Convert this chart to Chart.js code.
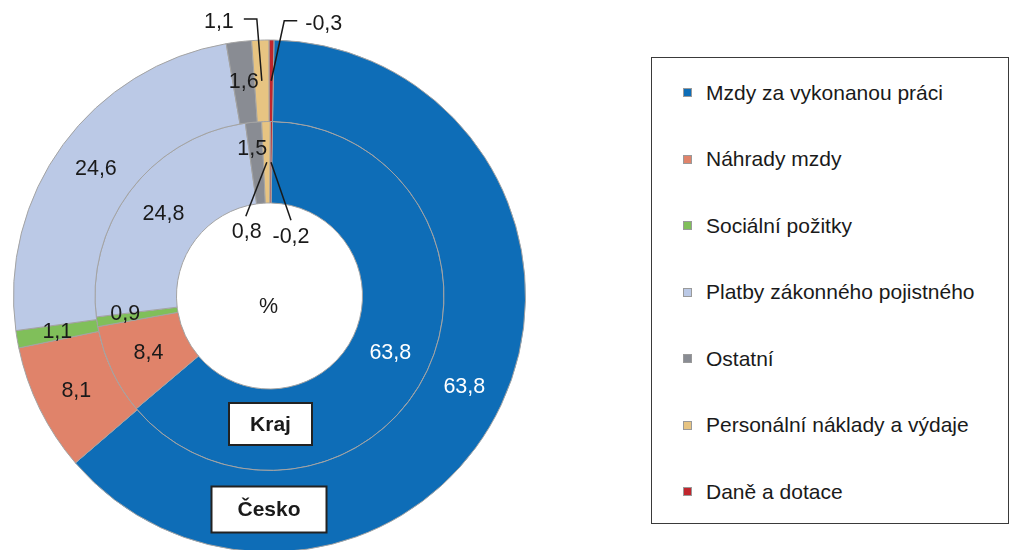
<!DOCTYPE html>
<html>
<head>
<meta charset="utf-8">
<script src="https://cdn.jsdelivr.net/npm/chart.js@4/dist/chart.umd.min.js"></script>
<style>
html,body{margin:0;padding:0;background:#fff;overflow:hidden;width:1010px;height:550px;}
#wrap{position:relative;width:1010px;height:550px;overflow:hidden;}
#chart{position:absolute;left:0;top:0;}
#legend{position:absolute;left:651px;top:57px;width:358px;height:467px;box-sizing:border-box;border:1px solid #3a3a3a;background:#fff;font-family:"Liberation Sans",Arial,sans-serif;font-size:21px;color:#1a1a1a;}
.item{position:absolute;left:0;height:26px;display:flex;align-items:center;white-space:nowrap;}
.sw{width:7px;height:7px;border:1px solid #9a9a9a;margin-left:31px;margin-right:14px;}
</style>
</head>
<body>
<div id="wrap">
<canvas id="chart" width="1010" height="600"></canvas>
<div id="legend"></div>
</div>
<script>
// ---- data ----
const categories = ['Mzdy za vykonanou práci','Náhrady mzdy','Sociální požitky','Platby zákonného pojistného','Ostatní','Personální náklady a výdaje','Daně a dotace'];
const ceskoValues = [63.8, 8.1, 1.1, 24.6, 1.6, 1.1, -0.3];
const krajValues  = [63.8, 8.4, 0.9, 24.8, 1.5, 0.8, -0.2];
const ringNames = ['Česko', 'Kraj'];
const unitLabel = '%';

// ---- styles ----
const colors = ['#0e6db7','#e0836a','#80bf5a','#bbc9e6','#898c93','#e7c482','#c0262d'];
const FONT = '"Liberation Sans", Arial, sans-serif';
// label placement tweaks (per ring, per slice)
const outerLabelStyle = [
  {color:'#ffffff'}, {}, {}, {}, {},
  {leader:[[-5,-62],[-18,-62]], text:[-28,-59], align:'right'},
  {leader:[[13,-60],[26,-60]], text:[34,-57], align:'left'}
];
const innerLabelStyle = [
  {color:'#ffffff'}, {}, {dx:-12, dy:-2}, {}, {dx:-5, dy:-14},
  {leader:[[-21,54]], text:[-20,70], align:'center'},
  {leader:[[20,58]], text:[20,75], align:'center'}
];

function fmt(v){ return v.toFixed(1).replace('.', ','); }

const labelPlugin = {
  id: 'sliceLabels',
  afterDatasetsDraw(chart){
    const ctx = chart.ctx;
    const sets = [ceskoValues, krajValues];
    const styles = [outerLabelStyle, innerLabelStyle];
    let cx = 0, cy = 0;
    sets.forEach((vals, di) => {
      const meta = chart.getDatasetMeta(di);
      meta.data.forEach((arc, i) => {
        const p = arc.getProps(['x','y','startAngle','endAngle','innerRadius','outerRadius'], true);
        cx = p.x; cy = p.y;
        const mid = (p.startAngle + p.endAngle) / 2;
        const r = (p.innerRadius + p.outerRadius) / 2;
        const ax = p.x + Math.cos(mid) * r;
        const ay = p.y + Math.sin(mid) * r;
        const st = styles[di][i] || {};
        ctx.save();
        ctx.font = '21.5px ' + FONT;
        ctx.fillStyle = st.color || '#1a1a1a';
        ctx.textBaseline = 'middle';
        const txt = fmt(vals[i]);
        if (st.leader) {
          ctx.strokeStyle = '#1a1a1a';
          ctx.lineWidth = 1.5;
          ctx.beginPath();
          ctx.moveTo(ax, ay);
          st.leader.forEach(pt => ctx.lineTo(ax + pt[0], ay + pt[1]));
          ctx.stroke();
          ctx.textAlign = st.align;
          ctx.fillText(txt, ax + st.text[0], ay + st.text[1]);
        } else {
          ctx.textAlign = 'center';
          ctx.fillText(txt, ax + (st.dx || 0), ay + (st.dy || 0));
        }
        ctx.restore();
      });
    });
    // centre unit
    ctx.save();
    ctx.font = '21.5px ' + FONT;
    ctx.fillStyle = '#1a1a1a';
    ctx.textAlign = 'center';
    ctx.textBaseline = 'middle';
    ctx.fillText(unitLabel, cx - 1, cy + 11);
    // ring name boxes
    const boxes = [
      {name: ringNames[1], x: cx - 40.5, y: cy + 107, w: 83, h: 42},
      {name: ringNames[0], x: cx - 58, y: cy + 190.5, w: 115, h: 46}
    ];
    ctx.font = 'bold 21px ' + FONT;
    boxes.forEach(b => {
      ctx.fillStyle = '#ffffff';
      ctx.fillRect(b.x, b.y, b.w, b.h);
      ctx.strokeStyle = '#222222';
      ctx.lineWidth = 2;
      ctx.strokeRect(b.x, b.y, b.w, b.h);
      ctx.fillStyle = '#1a1a1a';
      ctx.fillText(b.name, b.x + b.w / 2, b.y + b.h / 2 + 1);
    });
    ctx.restore();
  }
};

new Chart(document.getElementById('chart'), {
  type: 'doughnut',
  data: {
    labels: categories,
    datasets: [
      {label: ringNames[0], data: ceskoValues.map(Math.abs), backgroundColor: colors, borderColor: '#a3a3a3', borderWidth: 1},
      {label: ringNames[1], data: krajValues.map(Math.abs), backgroundColor: colors, borderColor: '#a3a3a3', borderWidth: 1}
    ]
  },
  options: {
    responsive: false,
    animation: false,
    devicePixelRatio: 1,
    events: [],
    rotation: 1,
    cutout: 93,
    layout: {padding: {left: 13, top: 39.5, right: 484, bottom: 47.5}},
    plugins: {legend: {display: false}, tooltip: {enabled: false}}
  },
  plugins: [labelPlugin]
});

// HTML legend
const lg = document.getElementById('legend');
categories.forEach((c, i) => {
  const d = document.createElement('div');
  d.className = 'item';
  d.style.top = (34.5 + i * 66.5 - 13) + 'px';
  const s = document.createElement('span');
  s.className = 'sw';
  s.style.background = colors[i];
  const t = document.createElement('span');
  t.textContent = c;
  d.appendChild(s); d.appendChild(t);
  lg.appendChild(d);
});
</script>
</body>
</html>
